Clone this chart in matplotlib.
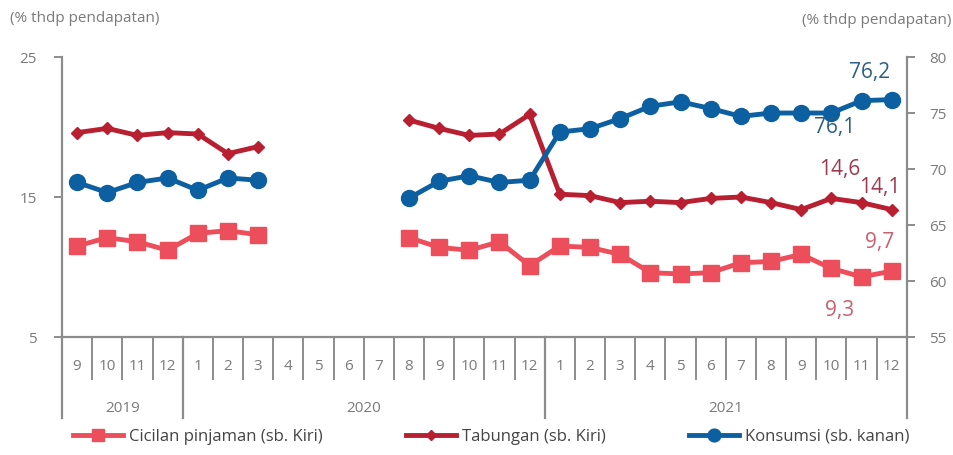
import numpy as np
import matplotlib.pyplot as plt
import matplotlib.transforms as mtransforms

months = ['9', '10', '11', '12',
          '1', '2', '3', '4', '5', '6', '7', '8', '9', '10', '11', '12',
          '1', '2', '3', '4', '5', '6', '7', '8', '9', '10', '11', '12']
years = ['2019', '2020', '2021']
year_span = [(0, 3), (4, 15), (16, 27)]

nan = np.nan
cicilan = [11.5, 12.1, 11.8, 11.2,
           12.4, 12.6, 12.3, nan, nan, nan, nan, 12.1, 11.4, 11.2, 11.8, 10.1,
           11.5, 11.4, 10.9, 9.6, 9.5, 9.6, 10.3, 10.4, 10.9, 9.9, 9.3, 9.7]
tabungan = [19.6, 19.9, 19.4, 19.6,
            19.5, 18.1, 18.6, nan, nan, nan, nan, 20.5, 19.9, 19.4, 19.5, 20.9,
            15.2, 15.1, 14.6, 14.7, 14.6, 14.9, 15.0, 14.6, 14.1, 14.9, 14.6, 14.1]
konsumsi = [68.8, 67.9, 68.8, 69.2,
            68.1, 69.2, 69.0, nan, nan, nan, nan, 67.4, 68.9, 69.4, 68.8, 69.0,
            73.3, 73.6, 74.5, 75.6, 76.0, 75.4, 74.7, 75.0, 75.0, 75.0, 76.1, 76.2]

c_cic = '#ec4f5b'
c_tab = '#b81f31'
c_kon = '#0c5fa0'
grey = '#7a7a7a'
axcol = '#8c8c8c'

plt.rcParams['font.family'] = ['Open Sans', 'DejaVu Sans']

fig = plt.figure(figsize=(9.54, 4.55), dpi=100)
ax = fig.add_axes([0.065, 0.2593, 0.8855, 0.6154])
ax2 = ax.twinx()

x = np.arange(len(months))
l1, = ax.plot(x, cicilan, color=c_cic, lw=3.5, marker='s', ms=11, label='Cicilan pinjaman (sb. Kiri)')
l2, = ax.plot(x, tabungan, color=c_tab, lw=3.5, marker='D', ms=6.5, label='Tabungan (sb. Kiri)')
l3, = ax2.plot(x, konsumsi, color=c_kon, lw=3.5, marker='o', ms=11.5, label='Konsumsi (sb. kanan)')

ax.set_xlim(-0.5, len(months) - 0.5)
ax.set_ylim(5, 25)
ax2.set_ylim(55, 80)
ax.set_yticks([5, 15, 25])
ax2.set_yticks([55, 60, 65, 70, 75, 80])

for a in (ax, ax2):
    for s in a.spines.values():
        s.set_visible(False)
ax.spines['left'].set_visible(True)
ax.spines['bottom'].set_visible(True)
ax2.spines['right'].set_visible(True)
for s in (ax.spines['left'], ax.spines['bottom'], ax2.spines['right']):
    s.set_color(axcol)
    s.set_linewidth(1.6)

ax.tick_params(axis='y', colors=axcol, length=6, width=1.4, labelsize=11, labelcolor=grey, pad=12)
ax2.tick_params(axis='y', colors=axcol, length=6, width=1.4, labelsize=11, labelcolor=grey, pad=10)

ax.set_xticks(x)
ax.set_xticklabels(months)
ax.set_xticks(np.arange(0.5, len(months) - 1), minor=True)
ax.tick_params(axis='x', which='major', length=0, labelsize=11, labelcolor=grey, pad=16)
ax.tick_params(axis='x', which='minor', length=31, width=1.4, color=axcol, direction='out')

# long separators for the year groups and the outer edges
trans = mtransforms.blended_transform_factory(ax.transData, ax.transAxes)
for b in [-0.5, 3.5, 15.5, len(months) - 0.5]:
    ax.plot([b, b], [0, -0.29], transform=trans, color=axcol, lw=1.6, clip_on=False)
for yr, (a, b) in zip(years, year_span):
    ax.text((a + b) / 2, -0.254, yr, transform=trans, ha='center', va='center',
            fontsize=11, color=grey)

fig.text(0.01, 0.96, '(% thdp pendapatan)', fontsize=11, color=grey, ha='left', va='center')
fig.text(0.997, 0.955, '(% thdp pendapatan)', fontsize=11, color=grey, ha='right', va='center')

# value labels
ax2.annotate('76,2', (27, konsumsi[27]), xytext=(-22, 27), textcoords='offset pixels',
             ha='center', va='center', fontsize=15, color='#2c5e86')
ax2.annotate('76,1', (26, konsumsi[26]), xytext=(-27, -27), textcoords='offset pixels',
             ha='center', va='center', fontsize=15, color='#2c5e86')
ax.annotate('14,6', (26, tabungan[26]), xytext=(-22, 33), textcoords='offset pixels',
            ha='center', va='center', fontsize=15, color='#9e3a50')
ax.annotate('14,1', (27, tabungan[27]), xytext=(-12, 22), textcoords='offset pixels',
            ha='center', va='center', fontsize=15, color='#9e3a50')
ax.annotate('9,7', (27, cicilan[27]), xytext=(-12, 29), textcoords='offset pixels',
            ha='center', va='center', fontsize=15, color='#c8606f')
ax.annotate('9,3', (26, cicilan[26]), xytext=(-22, -34), textcoords='offset pixels',
            ha='center', va='center', fontsize=15, color='#c8606f')

fig.legend(handles=[l1, l2, l3], loc='center', bbox_to_anchor=(0.515, 0.04), ncol=3,
           frameon=False, fontsize=12, handlelength=3.0, handletextpad=0.35,
           columnspacing=5.0, labelcolor='#444444', markerscale=0.8)

fig.savefig('out.png', dpi=100)
